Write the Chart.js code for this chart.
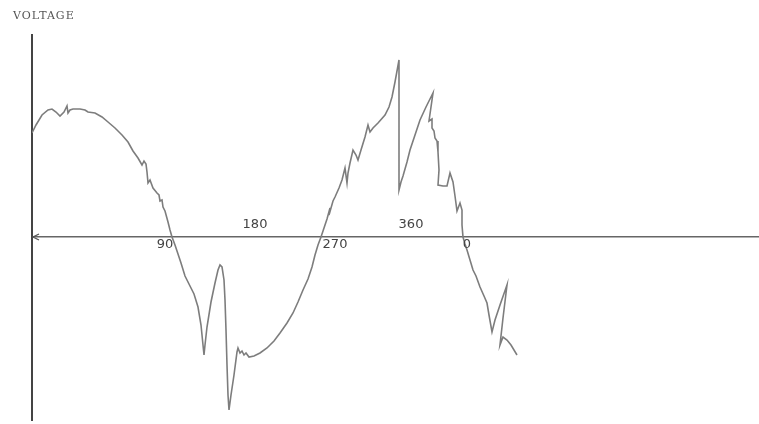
<!DOCTYPE html>
<html>
<head>
<meta charset="utf-8">
<script src="https://cdn.jsdelivr.net/npm/chart.js@4/dist/chart.umd.min.js"></script>
<style>
  html, body { margin: 0; padding: 0; background: #ffffff; }
  #wrap { width: 759px; height: 424px; position: relative; }
</style>
</head>
<body>
<div id="wrap"><canvas id="c" width="759" height="424"></canvas></div>
<script>
// Phase position along the trace (arbitrary units, 0 = vertical axis)
const phase = [
  0, 4, 10, 16, 20, 24, 28, 32, 35, 36, 38, 41, 48, 53, 56, 63, 70, 76, 83, 90,
  96, 101, 106, 110, 112, 114, 115, 116, 118, 121, 125, 127, 128, 130, 131, 133, 136, 138, 140,
  143, 145, 149, 153, 158, 162, 166, 169, 171, 172, 173, 175, 179, 183, 186, 188, 190,
  192, 193, 194, 195, 196, 197, 199, 202, 205, 206, 208, 210, 212, 214, 217, 222, 228,
  235, 242, 248, 255, 261, 266, 271, 276, 280, 283, 286, 289, 292, 295, 298, 297, 301,
  303, 307, 310, 313, 315, 316, 318, 321, 324, 326, 329, 333, 336, 338, 341, 346, 353,
  357, 360, 363, 367, 367, 369, 371, 375, 378, 383, 388, 394, 401, 397, 400, 400, 402,
  403, 405, 406, 407, 406, 411, 415, 418, 421, 423, 425, 428, 430, 430, 431, 433, 435,
  438, 441, 444, 448, 452, 455, 457, 460, 463, 468, 475, 471, 468, 471, 475, 479, 485
];

// Voltage along the trace (arbitrary units, 0 = horizontal axis)
const voltage = [
  52, 56, 61, 63.5, 64, 62.5, 60.5, 62.5, 65.5, 62, 63.5, 64, 64, 63.5, 62.5, 62, 60, 57.5, 54.5, 51,
  47.5, 43, 39.5, 36, 38, 36.5, 32.5, 27, 28.5, 24.5, 22, 21, 18, 18.5, 15, 13, 7.5, 3.5, 0,
  -4, -7, -13, -19.5, -24.5, -28.5, -35, -44, -54, -59, -54, -45, -32.5, -23, -16.5, -14, -15,
  -21.5, -31.5, -46.5, -64, -79, -86.5, -79, -69, -57.5, -55.5, -58, -57, -59, -58, -60, -59.5, -58,
  -55.5, -52, -48, -43, -38, -32.5, -26.5, -21, -15, -9, -4, 0, 4.5, 9, 14.5, 11, 18,
  20, 24.5, 28.5, 34.5, 27, 32, 37, 43.5, 41, 38.5, 43.5, 50, 56, 52.5, 54.5, 57, 61,
  65, 70, 77.5, 88.5, 23.5, 27.5, 30.5, 37.5, 43.5, 51, 58.5, 65, 72, 58, 59, 54.5, 53,
  49.5, 48, 42.5, 33.5, 26, 25.5, 25.5, 32, 27.5, 20.5, 13, 17, 13.5, 6, 0, -3.5, -6.5,
  -11.5, -16.5, -19.5, -25, -29.5, -33, -39, -47.5, -41.5, -34, -24, -40.5, -54, -50, -51.5, -54, -59
];

// Degree marks written along the horizontal axis
const tickLabels = ['90', '180', '270', '360', '0'];
const tickPhase  = [133, 223, 303, 379, 435];
const tickAbove  = [false, true, false, true, false];

const axisTitle = 'VOLTAGE';

const points = phase.map((p, i) => ({ x: p, y: voltage[i] }));

const annotations = {
  id: 'annotations',
  afterDraw(chart) {
    const { ctx, scales } = chart;
    const xs = scales.x, ys = scales.y;
    const y0 = ys.getPixelForValue(0);
    const x0 = xs.getPixelForValue(0);
    ctx.save();

    // arrow head at the left end of the horizontal axis
    ctx.strokeStyle = '#555';
    ctx.lineWidth = 1.3;
    ctx.beginPath();
    ctx.moveTo(x0 + 7, y0 - 3);
    ctx.lineTo(x0 + 1, y0);
    ctx.lineTo(x0 + 7, y0 + 3);
    ctx.stroke();

    // degree marks
    ctx.fillStyle = '#444';
    ctx.font = '13px "DejaVu Sans", sans-serif';
    ctx.textAlign = 'center';
    ctx.textBaseline = 'middle';
    tickLabels.forEach((t, i) => {
      const px = xs.getPixelForValue(tickPhase[i]);
      const py = tickAbove[i] ? y0 - 12 : y0 + 8;
      ctx.fillText(t, px, py);
    });

    // axis title
    ctx.font = '11px "DejaVu Serif", serif';
    ctx.fillStyle = '#555';
    ctx.textAlign = 'left';
    ctx.textBaseline = 'middle';
    if ('letterSpacing' in ctx) ctx.letterSpacing = '1px';
    ctx.fillText(axisTitle, 13, 16);
    ctx.restore();
  }
};

new Chart(document.getElementById('c'), {
  type: 'scatter',
  data: {
    datasets: [{
      data: points,
      showLine: true,
      borderColor: '#7d7d7d',
      borderWidth: 1.6,
      pointRadius: 0,
      pointHoverRadius: 0,
      tension: 0,
      fill: false
    }]
  },
  options: {
    responsive: false,
    animation: false,
    events: [],
    layout: { padding: { left: 32, right: 0, top: 35, bottom: 4 } },
    plugins: {
      legend: { display: false },
      tooltip: { enabled: false },
      title: { display: false }
    },
    scales: {
      x: {
        type: 'linear',
        min: 0,
        max: 727,
        position: { y: 0 },
        grid: { display: false },
        ticks: { display: false },
        border: { display: true, color: '#666', width: 1.5 }
      },
      y: {
        type: 'linear',
        min: -91.5,
        max: 101,
        position: { x: 0 },
        grid: { display: false },
        ticks: { display: false },
        border: { display: true, color: '#444', width: 2 }
      }
    }
  },
  plugins: [annotations]
});
</script>
</body>
</html>
